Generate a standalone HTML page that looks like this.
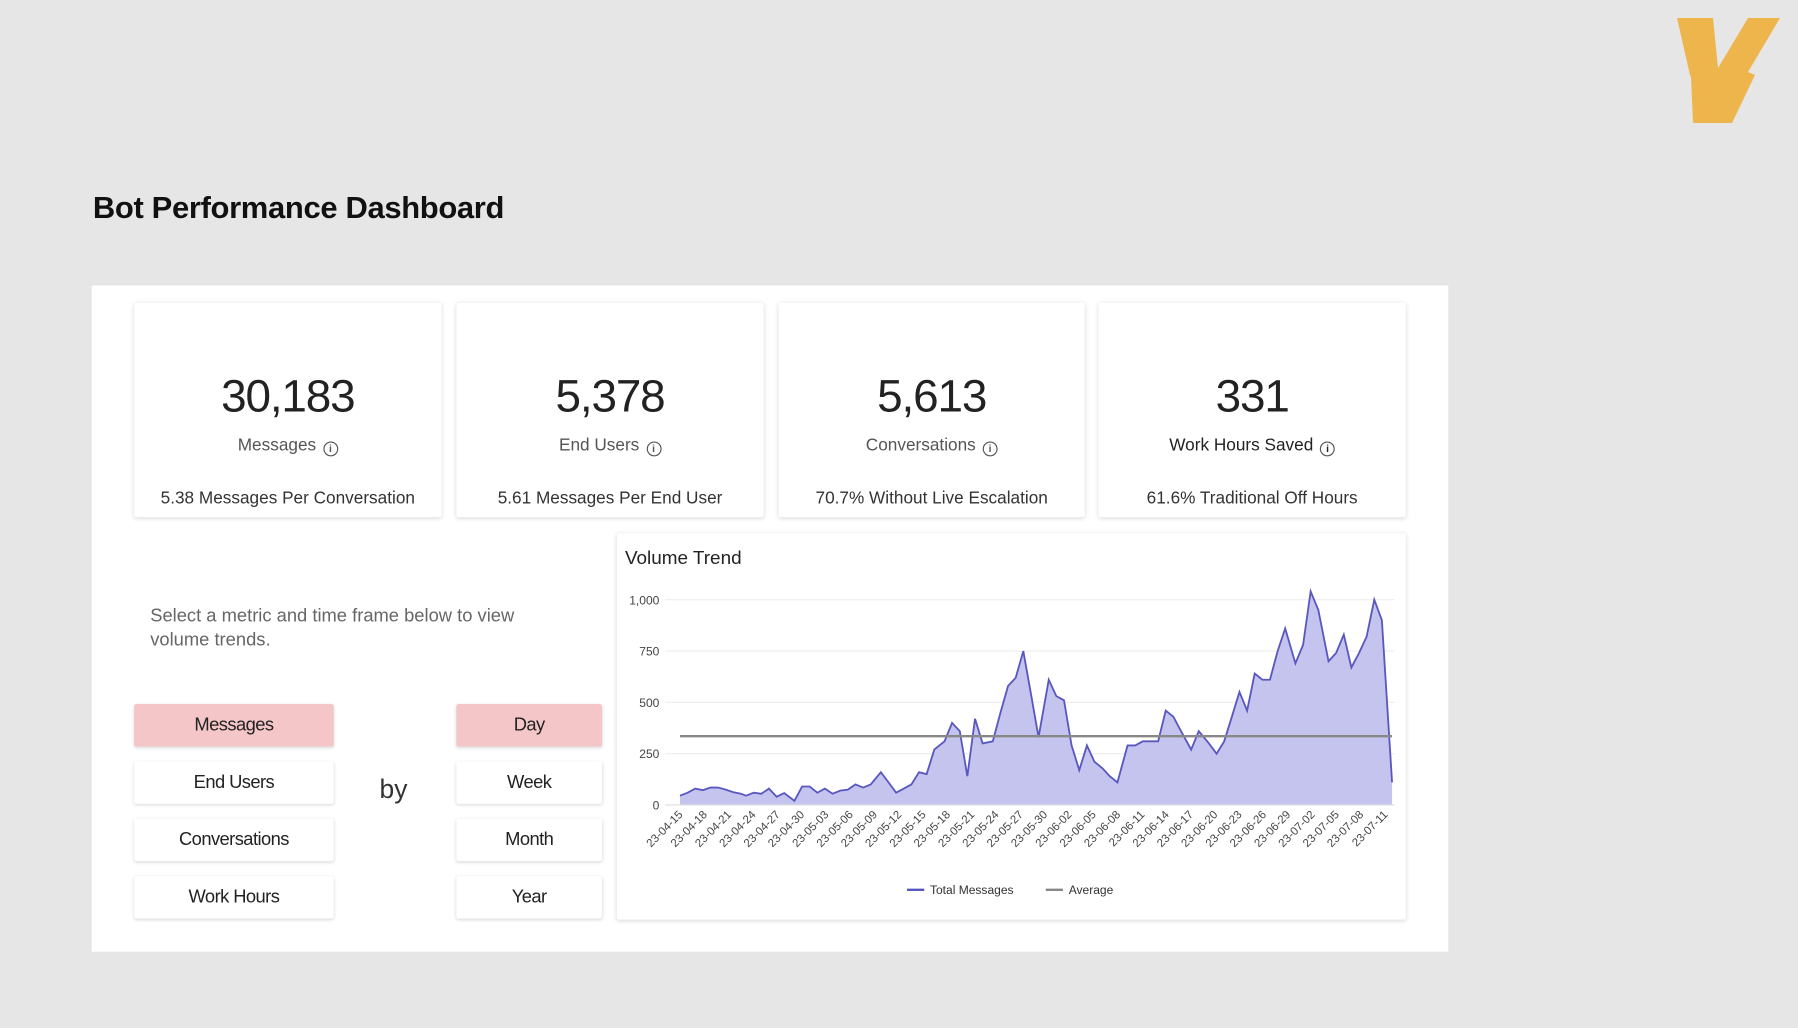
<!DOCTYPE html>
<html><head><meta charset="utf-8"><style>
body{margin:0;width:1798px;height:1028px;overflow:hidden;background:#e6e6e6;font-family:"Liberation Sans",sans-serif}
#w{position:absolute;left:0;top:0;width:1568px;height:896px;transform:scale(1.14668);transform-origin:0 0}
.a{position:absolute}
.card{position:absolute;background:#fff;box-shadow:0 1px 4px rgba(0,0,0,.15);border-radius:2px}
.num{position:absolute;width:100%;text-align:center;top:60px;font-size:40px;color:#222;letter-spacing:-1px}
.lab{position:absolute;width:100%;text-align:center;top:116px;font-size:15px;color:#555}
.sub{position:absolute;width:100%;text-align:center;top:162px;font-size:15px;color:#333}
.i{display:inline-block;width:11px;height:11px;border:1.3px solid #555;border-radius:50%;font-size:9px;line-height:11px;vertical-align:-1px;margin-left:6px;font-weight:bold}
.btn{position:absolute;background:#fff;box-shadow:0 1px 3px rgba(0,0,0,.15);text-align:center;line-height:37px;font-size:16px;color:#222;letter-spacing:-.5px;border-radius:2px}
.pk{background:#f4c6c8}
</style></head><body><div id="w">
<div class="a" style="left:81px;top:166px;font-size:27px;font-weight:bold;color:#111;letter-spacing:-.3px">Bot Performance Dashboard</div>
<div class="a" style="left:80px;top:249px;width:1183px;height:581px;background:#fff"></div>
<div class="card" style="left:117px;top:264px;width:268px;height:187px"><div class="num">30,183</div><div class="lab">Messages<span class="i">i</span></div><div class="sub">5.38 Messages Per Conversation</div></div>
<div class="card" style="left:398px;top:264px;width:268px;height:187px"><div class="num">5,378</div><div class="lab">End Users<span class="i">i</span></div><div class="sub">5.61 Messages Per End User</div></div>
<div class="card" style="left:679px;top:264px;width:267px;height:187px"><div class="num">5,613</div><div class="lab">Conversations<span class="i">i</span></div><div class="sub">70.7% Without Live Escalation</div></div>
<div class="card" style="left:958px;top:264px;width:268px;height:187px"><div class="num">331</div><div class="lab" style="color:#222">Work Hours Saved<span class="i">i</span></div><div class="sub">61.6% Traditional Off Hours</div></div>
<div class="a" style="left:131px;top:527px;font-size:16px;color:#666;line-height:21px">Select a metric and time frame below to view<br>volume trends.</div>
<div class="btn pk" style="left:117px;top:614px;width:174px">Messages</div>
<div class="btn" style="left:117px;top:664px;width:174px">End Users</div>
<div class="btn" style="left:117px;top:714px;width:174px">Conversations</div>
<div class="btn" style="left:117px;top:764px;width:174px">Work Hours</div>
<div class="a" style="left:331px;top:675px;font-size:23px;color:#333">by</div>
<div class="btn pk" style="left:398px;top:614px;width:127px">Day</div>
<div class="btn" style="left:398px;top:664px;width:127px">Week</div>
<div class="btn" style="left:398px;top:714px;width:127px">Month</div>
<div class="btn" style="left:398px;top:764px;width:127px">Year</div>
<div class="card" style="left:538px;top:465px;width:688px;height:337px"></div>
<svg id="c" class="a" style="left:0;top:0" width="1568" height="896"></svg>
</div>
<svg class="a" style="left:1660px;top:0" width="138" height="140"><polygon points="17,18 53,18 58,68 88,18 120,18 88,72 95,75 72,123 33,123 31,77 30,75" fill="#eeb54c"/></svg>
<script>
var d=[[120,45],[135,60],[150,80],[165,72],[180,85],[195,85],[210,75],[225,62],[240,55],[250,45],[265,60],[280,55],[295,80],[310,40],[325,58],[345,20],[360,90],[375,90],[390,60],[405,80],[420,55],[435,70],[450,75],[465,100],[480,85],[495,100],[515,160],[530,110],[545,60],[560,80],[575,100],[590,160],[605,150],[620,270],[640,310],[655,400],[670,360],[685,140],[700,420],[715,300],[735,310],[750,450],[765,580],[780,620],[795,750],[810,540],[825,330],[845,610],[860,530],[875,510],[890,290],[905,170],[920,290],[935,210],[950,180],[965,140],[980,110],[1000,290],[1015,290],[1030,310],[1045,310],[1060,310],[1075,460],[1090,430],[1105,360],[1125,270],[1140,360],[1160,300],[1175,250],[1190,310],[1205,430],[1220,550],[1235,460],[1250,640],[1265,610],[1280,610],[1295,750],[1310,860],[1330,690],[1345,780],[1360,1040],[1375,950],[1395,700],[1410,740],[1425,830],[1440,670],[1455,740],[1470,820],[1485,1000],[1500,900],[1520,110]];
var X=function(z){return 593+(z-120)*621/1400},Y=function(v){return 702-v*0.179};
var s='<text x="545" y="492" font-size="16.5" fill="#222">Volume Trend</text>';
[0,250,500,750,1000].forEach(function(v){var y=Y(v);if(v)s+='<line x1="580" x2="1216" y1="'+y+'" y2="'+y+'" stroke="#eee"/>';s+='<text x="575" y="'+(y+4)+'" font-size="10.5" fill="#444" text-anchor="end">'+(v==1000?'1,000':v)+'</text>'});
var p=d.map(function(q){return X(q[0]).toFixed(1)+','+Y(q[1]).toFixed(1)}).join(' ');
s+='<polygon points="'+X(120)+',702 '+p+' '+X(1520)+',702" fill="#c5c4ee"/>';
s+='<polyline points="'+p+'" fill="none" stroke="#5a58c0" stroke-width="1.6"/>';
s+='<line x1="593" x2="1214" y1="642" y2="642" stroke="#888" stroke-width="2"/>';
s+='<line x1="580" x2="1216" y1="702" y2="702" stroke="#ddd"/>';
var L=['04-15','04-18','04-21','04-24','04-27','04-30','05-03','05-06','05-09','05-12','05-15','05-18','05-21','05-24','05-27','05-30','06-02','06-05','06-08','06-11','06-14','06-17','06-20','06-23','06-26','06-29','07-02','07-05','07-08','07-11'];
L.forEach(function(t,i){var x=596+i*21.2,y=711;s+='<text transform="translate('+x+','+y+') rotate(-45)" font-size="10" fill="#444" text-anchor="end">23-'+t+'</text>'});
s+='<line x1="791" x2="806" y1="776" y2="776" stroke="#5a58c0" stroke-width="2"/><text x="811" y="779.5" font-size="10.5" fill="#333">Total Messages</text>';
s+='<line x1="912" x2="927" y1="776" y2="776" stroke="#888" stroke-width="2"/><text x="932" y="779.5" font-size="10.5" fill="#333">Average</text>';
document.getElementById('c').innerHTML=s;
</script>
</body></html>
